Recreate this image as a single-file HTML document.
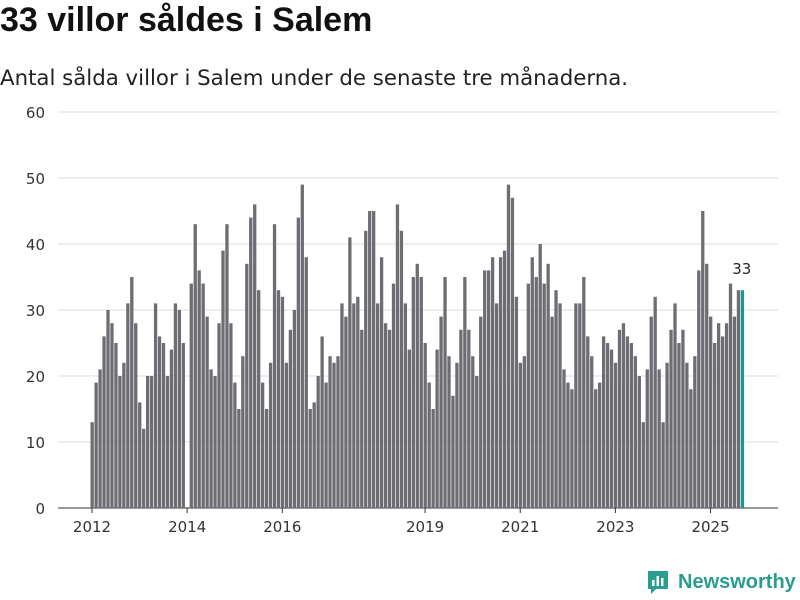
<!DOCTYPE html>
<html><head><meta charset="utf-8"><style>
body{margin:0;background:#fff;width:800px;height:600px;overflow:hidden;font-family:"DejaVu Sans",sans-serif}
#title{position:absolute;left:0;top:1px;font-family:"Liberation Sans",sans-serif;font-size:34px;font-weight:bold;color:#111;margin:0;white-space:nowrap}
#sub{position:absolute;left:0;top:66px;font-size:21.3px;color:#222;white-space:nowrap}
#logo{position:absolute;left:646px;top:569px;display:flex;align-items:center;font-family:"Liberation Sans",sans-serif;font-size:20px;font-weight:bold;color:#2a9d8f}
</style></head><body>
<h1 id="title">33 villor såldes i Salem</h1>
<div id="sub">Antal sålda villor i Salem under de senaste tre månaderna.</div>
<svg id="chart" width="800" height="600" style="position:absolute;left:0;top:0"></svg>
<div id="logo"><svg width="24" height="26" viewBox="0 0 24 26" style="margin-right:8px"><path d="M2 2h20v18h-12l-5 5v-5H2z" fill="#2a9d8f"/><rect x="6" y="11" width="2.5" height="6" fill="#fff"/><rect x="10.5" y="7" width="2.5" height="10" fill="#fff"/><rect x="15" y="9" width="2.5" height="8" fill="#fff"/></svg>Newsworthy</div>
<script>
const values=[13,19,21,26,30,28,25,20,22,31,35,28,16,12,20,20,31,26,25,20,24,31,30,25,0,
34,43,36,34,29,21,20,28,39,43,28,19,15,23,37,44,46,33,19,15,22,43,33,32,
22,27,30,44,49,38,15,16,20,26,19,23,22,23,31,29,41,31,32,27,42,45,45,31,
38,28,27,34,46,42,31,24,35,37,35,25,19,15,24,29,35,23,17,22,27,35,27,23,
20,29,36,36,38,31,38,39,49,47,32,22,23,34,38,35,40,34,37,29,33,31,21,19,
18,31,31,35,26,23,18,19,26,25,24,22,27,28,26,25,23,20,13,21,29,32,21,13,
22,27,31,25,27,22,18,23,36,45,37,29,25,28,26,28,34,29,33,33];
const startYear=2012;
const yTicks=[0,10,20,30,40,50,60];
const xTickYears=[2012,2014,2016,2019,2021,2023,2025];
const NS="http://www.w3.org/2000/svg";
const svg=document.getElementById('chart');
const y0=508,pxPerUnit=396/60;
const yScale=v=>y0-v*pxPerUnit;
const x0=90.5,slot=3.965;
const xScale=i=>x0+i*slot;
function mk(t,a){const e=document.createElementNS(NS,t);for(const k in a)e.setAttribute(k,a[k]);svg.appendChild(e);return e;}
yTicks.forEach(v=>{
  const g=mk('line',{x1:58,x2:778,y1:yScale(v),y2:yScale(v),stroke:v===0?'#333':'#ddd','stroke-width':1});
  
  
  const t=mk('text',{x:45,y:yScale(v)+6,'text-anchor':'end','font-size':15,fill:'#333','font-family':'DejaVu Sans, sans-serif'});
  t.textContent=v;
  
  
});
values.forEach((v,i)=>{
  if(v<=0)return;
  const last=i===values.length-1;
  const r=mk('rect',{x:xScale(i),y:yScale(v),width:3.3,height:v*pxPerUnit,fill:last?'#1a9a8c':'#6e6d73'});
  
  
});
const li=values.length-1;
const lbl=mk('text',{x:xScale(li)+1,y:yScale(values[li])-16,'text-anchor':'middle','font-size':15,fill:'#222','font-family':'DejaVu Sans, sans-serif'});
lbl.textContent=values[li];


xTickYears.forEach(yr=>{
  const x=xScale((yr-startYear)*12)+1.5;
  const tk=mk('line',{x1:x,x2:x,y1:y0,y2:y0+5,stroke:'#333'});
  
  
  const t=mk('text',{x:x,y:y0+24,'text-anchor':'middle','font-size':15,fill:'#333','font-family':'DejaVu Sans, sans-serif'});
  t.textContent=yr;
  
  
});
</script>
</body></html>
